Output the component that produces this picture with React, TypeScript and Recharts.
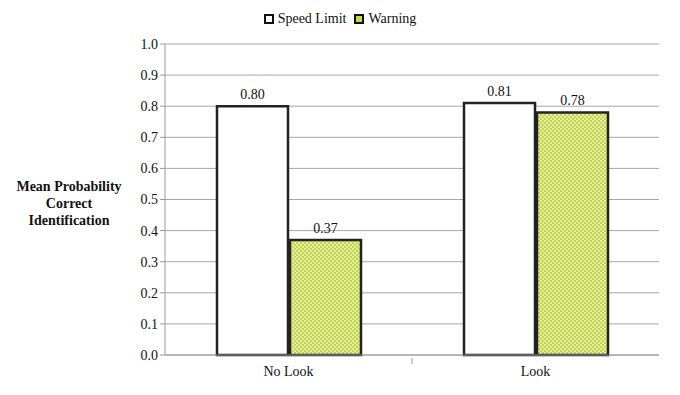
import { BarChart, Bar, XAxis, YAxis, CartesianGrid, Legend, LabelList } from 'recharts';

const categories = ['No Look', 'Look'];
const speedLimit = [0.8, 0.81];
const warning = [0.37, 0.78];
const yTicks = [0, 0.1, 0.2, 0.3, 0.4, 0.5, 0.6, 0.7, 0.8, 0.9, 1.0];

const data = categories.map((name, i) => ({
  name,
  speedLimit: speedLimit[i],
  warning: warning[i],
}));

const FONT = 'Liberation Serif, Times New Roman, serif';
const FS = 14;

function XTick(props: any) {
  const { x, y, payload, index } = props;
  return (
    <g>
      <text x={x} y={y + 13} textAnchor="middle" fontFamily={FONT} fontSize={FS} fill="#111">
        {payload.value}
      </text>
      {index === 0 && (
        <line x1={x + payload.offset} x2={x + payload.offset} y1={y - 5} y2={y + 1} stroke="#999" />
      )}
    </g>
  );
}

function YTitle(props: any) {
  const { viewBox } = props;
  const cy = viewBox.y + viewBox.height / 2;
  return (
    <text x={69} y={cy - 9} textAnchor="middle" fontFamily={FONT} fontSize={14} fontWeight="bold" fill="#111">
      <tspan x={69} dy={0}>Mean Probability</tspan>
      <tspan x={69} dy={17}>Correct</tspan>
      <tspan x={69} dy={17}>Identification</tspan>
    </text>
  );
}

function LegendContent() {
  const items = [
    { label: 'Speed Limit', fill: '#fff' },
    { label: 'Warning', fill: '#c8d84e' },
  ];
  return (
    <div style={{ display: 'flex', justifyContent: 'center', gap: 8, fontFamily: FONT, fontSize: FS, color: '#111' }}>
      {items.map((it) => (
        <div key={it.label} style={{ display: 'flex', alignItems: 'center', gap: 4 }}>
          <span style={{ width: 6, height: 6, border: '2px solid #111', background: it.fill, display: 'inline-block' }} />
          <span>{it.label}</span>
        </div>
      ))}
    </div>
  );
}

export default function App() {
  return (
    <div style={{ position: 'absolute', left: 0, top: 0, width: 680, height: 395, background: '#fff', fontFamily: FONT }}>
      <BarChart
        width={680}
        height={395}
        data={data}
        margin={{ top: 20, right: 21, bottom: 0, left: 0 }}
        barSize={71}
        barGap={2}
        style={{ fontFamily: FONT }}
      >
        <defs>
          <pattern id="dots" width="4" height="4" patternUnits="userSpaceOnUse">
            <rect width="4" height="4" fill="#c2d545" />
            <circle cx="1" cy="1" r="0.9" fill="#f4f8dc" />
            <circle cx="3" cy="3" r="0.9" fill="#f4f8dc" />
          </pattern>
        </defs>
        <CartesianGrid vertical={false} stroke="#a6a6a6" />
        <Legend verticalAlign="top" height={24} wrapperStyle={{ top: 11, left: 0, width: 680 }} content={<LegendContent />} />
        <XAxis
          dataKey="name"
          height={40}
          stroke="#999"
          tickLine={false}
          tick={<XTick />}
        />
        <YAxis
          width={165}
          domain={[0, 1]}
          ticks={yTicks}
          interval={0}
          stroke="#999"
          tickSize={5}
          tickFormatter={(v: number) => v.toFixed(1)}
          tick={{ fontFamily: FONT, fontSize: FS, fill: '#111' }}
          label={<YTitle />}
        />
        <Bar dataKey="speedLimit" name="Speed Limit" fill="#fff" stroke="#222" strokeWidth={2.5} isAnimationActive={false}>
          <LabelList dataKey="speedLimit" position="top" offset={7} formatter={(v: any) => Number(v).toFixed(2)} style={{ fontFamily: FONT, fontSize: FS, fill: '#111' }} />
        </Bar>
        <Bar dataKey="warning" name="Warning" fill="url(#dots)" stroke="#222" strokeWidth={2.5} isAnimationActive={false}>
          <LabelList dataKey="warning" position="top" offset={7} formatter={(v: any) => Number(v).toFixed(2)} style={{ fontFamily: FONT, fontSize: FS, fill: '#111' }} />
        </Bar>
      </BarChart>
    </div>
  );
}
